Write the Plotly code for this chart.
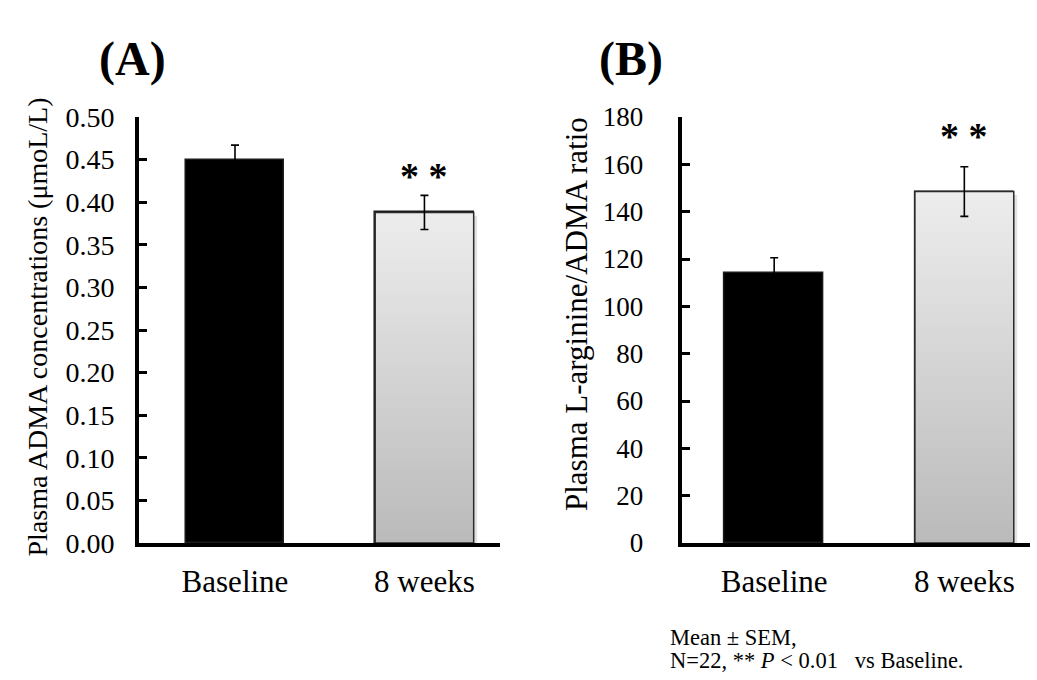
import plotly.graph_objects as go

# ---- data ----
categories = ["Baseline", "8 weeks"]
adma_mean = [0.450, 0.388]
adma_sem = [0.017, 0.020]
ratio_mean = [114.0, 148.5]
ratio_sem = [6.5, 10.5]
adma_ticks = [0.00, 0.05, 0.10, 0.15, 0.20, 0.25, 0.30, 0.35, 0.40, 0.45, 0.50]
ratio_ticks = [0, 20, 40, 60, 80, 100, 120, 140, 160, 180]

FONT = "Liberation Serif, Times New Roman, serif"
W, H = 1037, 680
BAR_W = 0.52
xpos = [0, 1]


def py(pix):
    """pixel row -> paper y"""
    return 1 - pix / H


def px(pix):
    return pix / W


fig = go.Figure()


def add_panel(xref, yref, means, sems, sx, sy):
    # faint drop shadow behind the grey bar
    i = 1
    x0, x1 = xpos[i] - BAR_W / 2, xpos[i] + BAR_W / 2
    fig.add_trace(go.Scatter(
        x=[x0 + sx, x1 + sx, x1 + sx, x0 + sx, x0 + sx],
        y=[-sy, -sy, means[i] - sy, means[i] - sy, -sy],
        mode="lines", fill="toself", fillcolor="#e2e2e2",
        line=dict(color="#e2e2e2", width=0), cliponaxis=False,
        xaxis=xref, yaxis=yref, showlegend=False, hoverinfo="skip"))
    fig.add_trace(go.Bar(
        x=xpos, y=means, width=BAR_W,
        marker=dict(color=["#000000", "#d4d4d4"], line=dict(color="#1a1a1a", width=1.5)),
        xaxis=xref, yaxis=yref, showlegend=False, hoverinfo="skip"))
    fig.add_trace(go.Scatter(
        x=[x0, x1, x1, x0, x0], y=[0, 0, means[i], means[i], 0],
        mode="lines", fill="toself",
        fillgradient=dict(type="vertical",
                          colorscale=[[0, "#bababa"], [1, "#ededed"]]),
        line=dict(color="#2a2a2a", width=1.5),
        xaxis=xref, yaxis=yref, showlegend=False, hoverinfo="skip"))
    fig.add_trace(go.Scatter(
        x=xpos, y=means, mode="markers",
        marker=dict(size=1, color="rgba(0,0,0,0)"),
        error_y=dict(type="data", array=sems, visible=True,
                     color="#000000", thickness=1.6, width=4),
        xaxis=xref, yaxis=yref, showlegend=False, hoverinfo="skip"))


add_panel("x", "y", adma_mean, adma_sem, 0.018, 0.004)
add_panel("x2", "y2", ratio_mean, ratio_sem, 0.018, 1.5)

common_x = dict(
    tickmode="array", tickvals=xpos, ticktext=categories,
    showline=True, linecolor="black", linewidth=3.5,
    ticks="", showgrid=False, zeroline=False, automargin=False,
    tickfont=dict(family=FONT, size=31, color="black"),
    ticklabelstandoff=8,
)
common_y = dict(
    showline=True, linecolor="black", linewidth=3.5,
    ticks="inside", ticklen=8, tickwidth=3, tickcolor="black",
    showgrid=False, zeroline=False, automargin=False,
)

fig.update_layout(
    width=W, height=H,
    margin=dict(l=0, r=0, t=0, b=0),
    paper_bgcolor="white", plot_bgcolor="white",
    template="none",
    bargap=0,
    xaxis=dict(domain=[0.134, 0.482], range=[-0.507, 1.398], anchor="y", **common_x),
    xaxis2=dict(domain=[0.658, 0.993], range=[-0.483, 1.344], anchor="y2", **common_x),
    yaxis=dict(domain=[py(543), py(117)], range=[0, 0.5], anchor="x",
               tickmode="array", tickvals=adma_ticks,
               ticktext=[f"{v:.2f}" for v in adma_ticks],
               tickfont=dict(family=FONT, size=28, color="black"),
               ticklabelstandoff=15, **common_y),
    yaxis2=dict(domain=[py(543), py(117)], range=[0, 180], anchor="x2",
                tickmode="array", tickvals=ratio_ticks,
                ticktext=[str(v) for v in ratio_ticks],
                tickfont=dict(family=FONT, size=27, color="black"),
                ticklabelstandoff=30, **common_y),
)

# axis titles (rotated)
fig.add_annotation(text="Plasma ADMA concentrations (μmoL/L)", textangle=-90,
                   xref="paper", yref="paper", x=px(19), y=py(327),
                   showarrow=False, font=dict(family=FONT, size=28, color="black"))
fig.add_annotation(text="Plasma L-arginine/ADMA ratio", textangle=-90,
                   xref="paper", yref="paper", x=px(576), y=py(314),
                   showarrow=False, font=dict(family=FONT, size=31, color="black"))

# panel labels
fig.add_annotation(text="<b>(A)</b>", xref="paper", yref="paper", x=px(97), y=py(30),
                   showarrow=False, font=dict(family=FONT, size=48, color="black"))
fig.add_annotation(text="<b>(B)</b>", xref="paper", yref="paper", x=px(631), y=py(30),
                   showarrow=False, font=dict(family=FONT, size=48, color="black"))

# significance stars
fig.add_annotation(text="<b>* *</b>", x=xpos[1], y=adma_mean[1] + adma_sem[1],
                   xref="x", yref="y", showarrow=False, yanchor="bottom", yshift=-4,
                   font=dict(family=FONT, size=38, color="black"))
fig.add_annotation(text="<b>* *</b>", x=xpos[1], y=ratio_mean[1] + ratio_sem[1],
                   xref="x2", yref="y2", showarrow=False, yanchor="bottom", yshift=8,
                   font=dict(family=FONT, size=38, color="black"))

# footnote
fig.add_annotation(text="Mean ± SEM,", xref="paper", yref="paper",
                   x=px(668), y=py(637), xanchor="left", yanchor="middle",
                   showarrow=False, font=dict(family=FONT, size=22.5, color="black"))
fig.add_annotation(text="N=22, ** <i>P</i> < 0.01   vs Baseline.", xref="paper", yref="paper",
                   x=px(668), y=py(660), xanchor="left", yanchor="middle",
                   showarrow=False, font=dict(family=FONT, size=22.5, color="black"))

fig.write_html("out.html")
